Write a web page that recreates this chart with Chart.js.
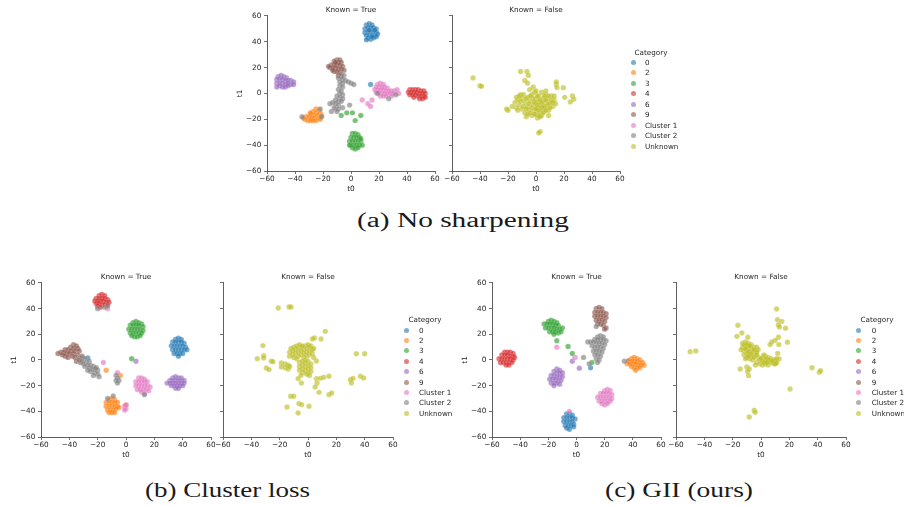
<!DOCTYPE html>
<html>
<head>
<meta charset="utf-8">
<script src="https://cdn.jsdelivr.net/npm/chart.js@4.4.1/dist/chart.umd.min.js"></script>
<style>
  html, body { margin:0; padding:0; background:#fff; }
  body { width:904px; height:506px; position:relative; overflow:hidden; font-family:"DejaVu Sans", sans-serif; }
  canvas { position:absolute; }
  .lg { position:absolute; font-family:"DejaVu Sans", sans-serif; font-size:7.2px; color:#262626; line-height:9px; white-space:nowrap; }
  .dot { position:absolute; width:5px; height:5px; border-radius:50%; }
  .cap { position:absolute; font-family:"Liberation Serif", serif; font-size:20.5px; line-height:24px; color:#1a1a1a; white-space:nowrap; transform-origin:0 0; }
</style>
</head>
<body>
<script>
// ---------------- DATA ----------------
const categories = ['0','2','3','4','6','9','Cluster 1','Cluster 2','Unknown'];
const tickValues = [-60,-40,-20,0,20,40,60];
const panelTitles = ['Known = True','Known = False'];
const captions = ['(a) No sharpening','(b) Cluster loss','(c) GII (ours)'];

// (a) No sharpening, Known = True
const a_t_0 = [[11,53],[13,54],[15,53],[10,50],[12,51],[14,51],[16,51],[18,50],[10,47],[12,48],[14,48],[16,48],[18,47],[11,45],[13,45],[15,45],[17,45],[19,46],[12,43],[14,42],[16,43],[18,44],[11,41.5],[15,44],[13,49],[17,49],[14,7]];
const a_t_2 = [[-25,-12],[-23,-13],[-27,-14],[-25,-15],[-22,-15],[-29,-16],[-27,-17],[-24,-17],[-21,-17],[-32,-18],[-30,-18],[-28,-19],[-26,-19],[-23,-19],[-33,-20],[-31,-21],[-29,-21],[-27,-21],[-25,-21],[-22,-20],[-34,-19],[-29,-15]];
const a_t_3 = [[1,-31],[3,-31],[5,-32],[0,-34],[2,-34],[4,-34],[6,-34],[-1,-37],[1,-37],[3,-37],[5,-37],[7,-37],[0,-40],[2,-40],[4,-40],[6,-40],[8,-40],[1,-42],[3,-43],[5,-42],[-1,-40],[7,-35],[-7,-17],[-3,-15],[1,-15],[7,-17],[3,-21]];
const a_t_4 = [[42,3],[44,3],[46,3],[48,3],[50,2],[52,2],[41,1],[43,1],[45,1],[47,1],[49,0],[51,0],[53,0],[42,-1],[44,-1],[46,-1],[48,-2],[50,-2],[52,-2],[49,-4],[51,-4],[53,-3],[45,-3]];
const a_t_6 = [[-52,13],[-50,14],[-48,13],[-46,12],[-53,11],[-51,11],[-49,11],[-47,10],[-45,10],[-43,10],[-41,9],[-53,8],[-51,8],[-49,8],[-47,7],[-45,8],[-43,7],[-51,6],[-49,5],[-47,5],[-45,6],[-53,5],[-41,7]];
const a_t_9 = [[-10,26],[-8,26],[-12,25],[-9,24],[-7,24],[-14,22],[-12,22],[-10,22],[-8,22],[-6,21],[-15,20],[-13,20],[-11,20],[-9,19],[-7,19],[-12,17],[-10,17],[-8,16],[-9,14],[-7,13],[-5,18],[-16,21],[-11,24],[-13,18]];
const a_t_c1 = [[19,7],[21,8],[23,7],[18,5],[20,5],[22,5],[24,5],[26,4],[17,3],[19,3],[21,3],[23,3],[25,2],[27,2],[29,2],[31,2],[33,3],[18,1],[20,1],[22,0],[24,0],[26,0],[28,0],[30,0],[34,0],[21,-2],[23,-2],[25,-2],[29,-2],[8,-5],[12,-8],[14,-10],[15,-5],[-11,-12]];
const a_t_c2 = [[-7,15],[-5,14],[-9,12],[-6,11],[-4,10],[-8,9],[-6,8],[-2,9],[0,8],[2,7],[-8,6],[-6,5],[-9,3],[-7,2],[-8,0],[-6,-1],[-10,-2],[-8,-3],[-6,-4],[-11,-5],[-9,-6],[-7,-6],[-13,-7],[-11,-8],[-9,-9],[-15,-8],[-12,-11],[-9,-12],[-6,-11],[-14,-14],[-10,-14],[-1,-9],[-35,-18],[-22,-12],[-21,-18],[27,-4],[19,0],[32,-1]];
// (a) Known = False
const a_f_u = [[-45,12],[-40,6],[-39,5.5],[-11,17],[-6.5,17],[-5.5,14],[-8,10],[-6,8],[-4.5,3],[14.5,7],[15,4.5],[14.5,9],[19.5,4.5],[20.5,-3],[26,-2],[27,-4.5],[24.5,-6.5],[-21,-12],[-20,-13],[3,-29.5],[2,-30.5],
  [-15,-7],[-13,-5],[-12,-9],[-10,-4],[-10,-12],[-8,-7],[-8,-15],[-6,-3],[-6,-10],[-5,-13],[-4,-6],[-3,-17],[-3,-1],[-2,-9],[-1,-13],[0,-4],[0,-7],[0,-16],[1,-11],[1,-19],[2,-2],[2,-6],[3,-14],[3,-9],[4,-17],[5,-4],[5,-11],[6,-7],[6,-14],[7,-1],[8,-10],[8,-4],[9,-13],[10,-7],[11,-2],[12,-10],[13,-5],[14,-8],[-14,-11],[-11,-1],[-7,-18],[-1,1],[4,1],[9,-17],[7,2],[-17,-10],[-2,5],[0,2],
  [-14,-3],[-12,-2],[-11,-6],[-9,-10],[-7,-4],[-7,-12],[-5,-8],[-4,-15],[-3,-11],[-2,-4],[-1,-7],[-1,-16],[1,-2],[1,-9],[2,-13],[2,-17],[3,-5],[4,-11],[4,-7],[5,-15],[6,-2],[6,-10],[7,-5],[7,-13],[9,-8],[9,-2],[10,-11],[11,-5],[12,-7],[13,-2],[-9,-1],[-4,-2],[-13,-13],[-6,-16],[0,-12],[3,-18]];

// (b) Cluster loss, Known = True
const b_t_0 = [[35,16],[37,17],[39,16],[33,14],[35,14],[37,14],[39,14],[41,13],[32,11],[34,11],[36,11],[38,11],[40,11],[42,10],[33,8],[35,8],[37,8],[39,8],[41,8],[43,8],[34,5],[36,5],[38,5],[40,5],[37,3],[-27,1.5]];
const b_t_2 = [[-12,-31],[-10,-30],[-8,-31],[-14,-33],[-12,-33],[-10,-33],[-8,-33],[-6,-33],[-14,-36],[-12,-36],[-10,-36],[-8,-36],[-6,-36],[-13,-39],[-11,-39],[-9,-39],[-7,-38],[-5,-37],[-12,-41],[-10,-41],[-8,-41],[-14,-8],[-4,-12],[0,-35]];
const b_t_3 = [[5,29],[7,30],[9,29],[11,28],[3,27],[5,27],[7,27],[9,27],[12,26],[2,24],[4,24],[6,24],[8,24],[10,24],[12,23],[3,21],[5,21],[7,21],[9,21],[11,21],[4,19],[6,18],[8,18],[10,19],[4,1]];
const b_t_4 = [[-19,50],[-17,51],[-15,50],[-21,48],[-19,48],[-17,48],[-15,48],[-13,47],[-22,46],[-20,46],[-18,46],[-16,46],[-14,45],[-12,45],[-21,44],[-19,44],[-17,43],[-15,43],[-13,43],[-20,42],[-18,41]];
const b_t_6 = [[33,-14],[35,-13],[37,-14],[39,-14],[31,-16],[33,-16],[35,-16],[37,-16],[39,-16],[41,-16],[29,-18],[31,-18],[33,-18],[35,-18],[37,-18],[39,-18],[41,-18],[32,-20],[34,-20],[36,-20],[38,-20],[40,-20],[35,-22],[37,-22],[7,-1]];
const b_t_9 = [[-37,12],[-35,11],[-39,10],[-37,9],[-34,9],[-43,8],[-41,8],[-39,7],[-36,7],[-33,7],[-46,6],[-44,6],[-42,5],[-40,5],[-37,5],[-34,4],[-48,5],[-45,4],[-43,3],[-41,2],[-38,3],[-36,2],[-33,1],[-35,-1],[-32,-2],[-31,3]];
const b_t_c1 = [[9,-14],[11,-14],[13,-15],[7,-17],[9,-17],[11,-17],[13,-17],[15,-17],[7,-20],[9,-20],[11,-20],[13,-20],[15,-20],[17,-21],[8,-23],[10,-23],[12,-23],[14,-23],[16,-24],[11,-25],[13,-26],[-16,-2],[-6,-10],[-1,-36],[0,-38],[-1,-39],[0,-35],[-13,40]];
const b_t_c2 = [[-31,2],[-29,1],[-33,0],[-31,-1],[-28,-2],[-26,-1],[-30,-3],[-27,-4],[-25,-4],[-23,-5],[-29,-5],[-26,-6],[-24,-7],[-22,-7],[-20,-8],[-25,-9],[-22,-10],[-20,-11],[-23,-12],[-19,-13],[-21,-6],[-27,-8],[-7,-12],[-6,-14],[-5,-16],[-7,-16],[-6,-18],[-9,-28],[-13,-30],[-20,40],[-15,41],[-13,42],[13,-27]];
// (b) Known = False
const b_f_u = [[-21,40.5],[-13.4,41.3],[-12,41.3],[12.2,22.3],[3.1,16.4],[4.5,17.1],[9.2,16.4],[-31.8,11.2],[-31.3,3.4],[-31.3,1.6],[-35.8,1],[-25.9,-1],[-24.7,-1.3],[-29.4,-6.2],[-27.5,-7.5],[-18.8,-2.3],[-18.8,-5.4],[-7,-14.5],[-4.7,-17.9],[5.9,-14.5],[8.7,-14.3],[11.1,-13.5],[14.8,-12.7],[6.4,-17.9],[5,-21],[5.9,-0.8],[7.8,-25.2],[14.8,-27],[16.7,-25.7],[29.9,-15.3],[31.8,-14.3],[30.6,-17.9],[34.1,4.9],[40,4.9],[37,-12.7],[39.3,-14],[-12.2,-28.3],[-10.1,-28.3],[-14.8,-36.6],[-6.4,-34],[-4.5,-34.8],[-7,-41.3],[0.7,-36.1],
  [-13,3],[-13,6],[-11,4],[-11,7],[-9,5],[-9,8],[-7,3],[-7,6],[-7,9],[-5,4],[-5,7],[-5,10],[-3,2],[-3,5],[-3,8],[-1,3],[-1,6],[-1,9],[1,4],[1,7],[1,10],[3,5],[3,8],[-2,11],[4,2],
  [-12,9],[-10,10],[-8,11],[-6,12],[-4,11],[0,12],[2,11],[-10,2],[-8,1],[-2,0],[4,9],
  [-6,-2],[-6,-5],[-6,-8],[-4,-1],[-4,-4],[-4,-7],[-4,-10],[-2,-2],[-2,-5],[-2,-8],[0,-1],[0,-4],[0,-7],[0,-10],[2,-3],[2,-6],[2,-9],[-5,-12],[-1,-11],[1,-12],
  [-16,-3],[-14,-4],[-16,-6],[-14,-7],[-13,-5]];

// (c) GII (ours), Known = True
const c_t_0 = [[-7,-42],[-5,-42],[-3,-43],[-9,-45],[-7,-45],[-5,-45],[-3,-45],[-1,-46],[-9,-48],[-7,-48],[-5,-48],[-3,-48],[-2,-50],[-8,-51],[-6,-51],[-4,-51],[-2,-52],[-7,-53],[-5,-54],[10,-6]];
const c_t_2 = [[39,1],[41,2],[43,1],[45,0],[37,-1],[39,-1],[41,-1],[43,-1],[45,-2],[47,-2],[36,-3],[38,-3],[40,-3],[42,-3],[44,-4],[46,-4],[48,-4],[39,-5],[41,-6],[43,-6],[45,-6],[42,-8]];
const c_t_3 = [[-20,30],[-18,31],[-16,30],[-14,29],[-23,28],[-21,28],[-19,28],[-17,28],[-15,27],[-13,27],[-22,25],[-20,25],[-18,25],[-16,25],[-14,24],[-12,24],[-10,25],[-19,22],[-17,22],[-15,22],[-13,21],[-11,22],[-16,20],[-14,15],[-6,10.5],[-3,5],[11,-2]];
const c_t_4 = [[-51,6],[-49,6],[-47,6],[-45,5],[-53,4],[-51,4],[-49,4],[-47,3],[-45,3],[-44,2],[-55,1],[-53,1],[-51,1],[-49,1],[-47,1],[-45,0],[-54,-2],[-52,-2],[-50,-2],[-48,-2],[-46,-2],[-50,-4],[-48,-4]];
const c_t_6 = [[-14,-7],[-12,-8],[-16,-9],[-14,-10],[-12,-10],[-10,-10],[-18,-12],[-16,-12],[-14,-13],[-12,-13],[-10,-13],[-19,-15],[-17,-15],[-15,-15],[-13,-16],[-11,-16],[-18,-18],[-16,-18],[-14,-18],[-12,-19],[-16,-20],[-3,-1],[2,-6.5]];
const c_t_9 = [[14,40],[16,41],[18,40],[13,37],[15,37],[17,37],[19,37],[21,36],[13,34],[15,34],[17,34],[19,34],[21,33],[14,31],[16,31],[18,31],[20,30],[15,28],[17,28],[19,27],[21,25],[20,24],[37,-0.5]];
const c_t_c1 = [[20,-24],[22,-23],[24,-24],[17,-26],[19,-26],[21,-26],[23,-26],[25,-27],[15,-29],[17,-29],[19,-29],[21,-29],[23,-29],[25,-30],[16,-32],[18,-32],[20,-32],[22,-32],[24,-32],[18,-34],[20,-35],[22,-34],[-14,10],[-1,2],[-5,-40]];
const c_t_c2 = [[15,18],[17,19],[19,18],[13,16],[15,16],[17,16],[19,16],[21,15],[8,14],[10,14],[12,14],[14,13],[16,13],[18,13],[20,12],[11,11],[13,10],[15,10],[17,10],[19,9],[12,7],[14,7],[16,7],[18,6],[13,4],[15,4],[17,3],[14,1],[16,0],[15,-2],[34,-1],[5,2],[9,-3],[14,26]];
// (c) Known = False
const c_f_u = [[-50,6.5],[-46,7],[11,39.7],[11.6,31.4],[14.7,30.1],[12.3,27.5],[13,25.7],[17.3,24.7],[-16.3,27],[-13.5,21],[-17,18.4],[-9.3,17.7],[12.3,17.7],[10,15.3],[7.6,14],[18.7,13.8],[6.4,12],[12.6,12],[11.8,5],[12.8,0.8],[10,-0.3],[10.7,-2.3],[-14.7,-7],[-10,-5.4],[-8.3,-7],[-9.5,-9],[-8.8,-12.2],[36,-6],[41.2,-9.6],[42.1,-8.3],[20.5,-22.6],[-4.8,-39.2],[-4.1,-40.8],[-8.3,-44.4],
  [-13,13],[-11,14],[-9,13],[-7,12],[-13,10],[-11,11],[-9,10],[-7,9],[-5,10],[-3,10],[-12,7],[-10,8],[-8,7],[-6,6],[-4,7],[-12,4],[-10,5],[-8,4],[-6,3],[-4,4],[-10,2],[-8,1],[-6,0],[-2,8],[-2,2],
  [-12,12],[-10,12],[-8,11],[-14,8],[-11,9],[-9,6],[-7,5],[-5,8],[-3,6],[-11,1],[-9,3],[-5,2],[-3,4],
  [-3,-2],[-1,0],[-1,-3],[1,2],[1,-1],[1,-4],[3,3],[3,0],[3,-3],[5,2],[5,-1],[5,-4],[7,1],[7,-2],[9,0],[9,-3],[11,1],[11,-2],[-4,-4],[2,4],
  [0,1],[2,-2],[4,1],[6,0],[8,-1],[10,-3],[4,-2]];

// ---------------- STYLE / LAYOUT ----------------
const catColors = ['#1f77b4','#ff7f0e','#2ca02c','#d62728','#9467bd','#8c564b','#e377c2','#7f7f7f','#bcbd22'];
function rgba(hex, a){ const n=parseInt(hex.slice(1),16); return `rgba(${n>>16},${(n>>8)&255},${n&255},${a})`; }
const FONT = 'DejaVu Sans';
const FS = 7.3;
const AX = '#4d4d4d';
const TXT = '#262626';

function ds(ci, pts){
  return { label: categories[ci], data: pts, backgroundColor: rgba(catColors[ci],0.64),
    borderColor: 'rgba(255,255,255,0.45)', borderWidth: 0.35, pointRadius: 2.7, pointHoverRadius: 2.7 };
}

const panels = [
  { L:267, T:16,  W:168, H:155, title:panelTitles[0], ylab:true,  sets:[[7,a_t_c2],[6,a_t_c1],[0,a_t_0],[1,a_t_2],[2,a_t_3],[3,a_t_4],[4,a_t_6],[5,a_t_9]] },
  { L:452, T:16,  W:168, H:155, title:panelTitles[1], ylab:false, sets:[[8,a_f_u]] },
  { L:41,  T:283, W:170, H:154, title:panelTitles[0], ylab:true,  sets:[[7,b_t_c2],[6,b_t_c1],[0,b_t_0],[1,b_t_2],[2,b_t_3],[3,b_t_4],[4,b_t_6],[5,b_t_9]] },
  { L:223, T:283, W:170, H:154, title:panelTitles[1], ylab:false, sets:[[8,b_f_u]] },
  { L:492, T:283, W:169, H:154, title:panelTitles[0], ylab:true,  sets:[[7,c_t_c2],[6,c_t_c1],[0,c_t_0],[1,c_t_2],[2,c_t_3],[3,c_t_4],[4,c_t_6],[5,c_t_9]] },
  { L:676, T:283, W:170, H:154, title:panelTitles[1], ylab:false, sets:[[8,c_f_u]] },
];

const PADL = 40, PADT = 16, PADR = 12, PADB = 26;
const minus = v => String(v).replace('-', '\u2212');

function axisCommon(){
  return {
    type:'linear', min:tickValues[0], max:tickValues[tickValues.length-1],
    afterBuildTicks: s => { s.ticks = tickValues.map(v => ({value:v})); },
    grid:{ drawOnChartArea:false, drawTicks:true, tickLength:3, color:AX, lineWidth:0.8 },
    border:{ display:true, color:AX, width:0.9 },
  };
}

panels.forEach(p => {
  const cv = document.createElement('canvas');
  const w = p.W + PADL + PADR, h = p.H + PADT + PADB;
  cv.width = w; cv.height = h;
  cv.style.left = (p.L - PADL) + 'px'; cv.style.top = (p.T - PADT) + 'px';
  cv.style.width = w + 'px'; cv.style.height = h + 'px';
  document.body.appendChild(cv);
  const xs = axisCommon(), ys = axisCommon();
  xs.ticks = { callback: minus, padding:1, color:TXT, font:{family:FONT, size:FS}, maxRotation:0, autoSkip:false };
  xs.title = { display:true, text:'t0', color:TXT, font:{family:FONT, size:FS}, padding:{top:0,bottom:4} };
  xs.afterFit = s => { s.height = PADB; };
  ys.ticks = { callback: p.ylab ? minus : (() => ''), padding:2.7, color:TXT, font:{family:FONT, size:FS}, autoSkip:false };
  ys.title = { display:p.ylab, text:'t1', color:TXT, font:{family:FONT, size:FS}, padding:{top:8.6,bottom:0} };
  ys.afterFit = s => { s.width = PADL; };
  new Chart(cv, {
    type:'scatter',
    data:{ datasets: p.sets.map(s => ds(s[0], s[1])) },
    options:{
      animation:false, responsive:false, maintainAspectRatio:false, devicePixelRatio:1,
      layout:{ padding:{ left:0, top:0, right:PADR, bottom:0 } },
      plugins:{
        legend:{ display:false }, tooltip:{ enabled:false },
        title:{ display:true, text:p.title, fullSize:false, color:TXT,
          font:{ family:FONT, size:FS, weight:'normal', lineHeight:1.2 }, padding:{ top:5.6, bottom:1.6 } }
      },
      scales:{ x:xs, y:ys }
    }
  });
});

// legends
const legends = [
  { cx:651, ty:52,    mx:633,   tx:645,   y0:62,  dy:10.5 },
  { cx:425, ty:319.3, mx:406,   tx:419,   y0:330, dy:10.4 },
  { cx:877, ty:319.3, mx:858.3, tx:871.7, y0:330, dy:10.4 },
];
legends.forEach(g => {
  const t = document.createElement('div');
  t.className = 'lg'; t.textContent = 'Category';
  document.body.appendChild(t);
  t.style.top = (g.ty - 4.5) + 'px';
  t.style.left = (g.cx - t.getBoundingClientRect().width/2) + 'px';
  categories.forEach((c, i) => {
    const y = g.y0 + i*g.dy;
    const d = document.createElement('div');
    d.className = 'dot'; d.style.background = rgba(catColors[i], 0.6);
    d.style.left = (g.mx - 2.5) + 'px'; d.style.top = (y - 2.5) + 'px';
    document.body.appendChild(d);
    const l = document.createElement('div');
    l.className = 'lg'; l.textContent = c;
    l.style.left = g.tx + 'px'; l.style.top = (y - 4.5) + 'px';
    document.body.appendChild(l);
  });
});

// captions
const capPos = [ { x:357, base:227, w:212 }, { x:145, base:497, w:165 }, { x:605, base:497, w:148 } ];
captions.forEach((c, i) => {
  const d = document.createElement('div');
  d.className = 'cap'; d.textContent = c;
  document.body.appendChild(d);
  const cp = capPos[i];
  const mw = d.getBoundingClientRect().width;
  d.style.left = cp.x + 'px';
  d.style.top = (cp.base - 19.2) + 'px';
  d.style.transform = `scaleX(${cp.w / mw})`;
});
</script>
</body>
</html>
